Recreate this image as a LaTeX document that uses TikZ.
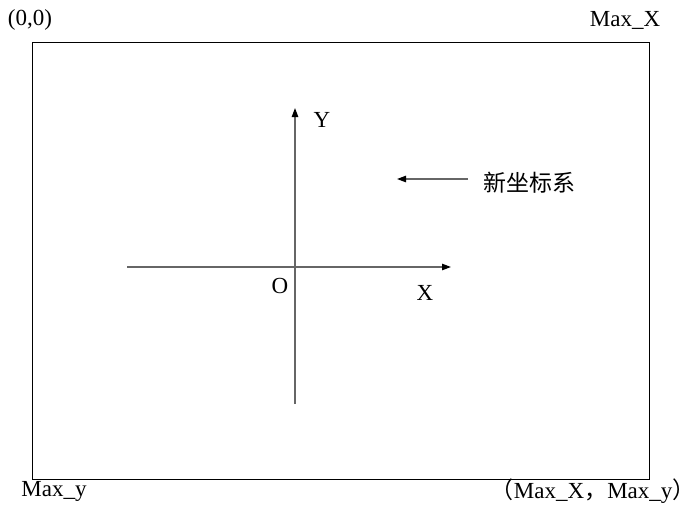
\documentclass[tikz,border=0pt]{standalone}
\usepackage{fontspec}
\setmainfont{Liberation Serif}
\newfontfamily\cjk{Noto Sans CJK SC}
\usetikzlibrary{arrows.meta}

\begin{document}
\begin{tikzpicture}[x=0.5pt,y=-0.5pt,font=\fontsize{11.5}{13}\selectfont,
  axis/.style={draw=black!60,line width=0.7pt,-{Triangle[length=4.5pt,width=3.2pt,color=black]}}]
\useasboundingbox (0,0) rectangle (684,504);
\draw[line width=0.5pt] (32,42) rectangle (649,479);
% corner labels
\node (origin) at (30,20) {(0,0)};
\node (maxx) at (625,20) {Max\_X};
\node (maxy) at (54,491) {Max\_y};
\node[anchor=east,inner sep=0pt] (corner) at (682,491) {{\cjk （}Max\_X{\cjk ，}Max\_y\makebox[0.4em][l]{\cjk ）}};
% axes
\coordinate (ybot) at (295,404);
\coordinate (ytop) at (295,108);
\coordinate (xleft) at (127,267);
\coordinate (xright) at (451,267);
\draw[axis] (ybot) -- (ytop);
\draw[axis] (xleft) -- (xright);
\node (ylab) at (322,120) {Y};
\node (xlab) at (425,293) {X};
\node (olab) at (280,286) {O};
% new system
\node (newsys) at (529,183) {\cjk 新坐标系};
\coordinate (pstart) at (468,179);
\coordinate (pend) at (397,179);
\draw[axis] (pstart) -- (pend);
\end{tikzpicture}
\end{document}
